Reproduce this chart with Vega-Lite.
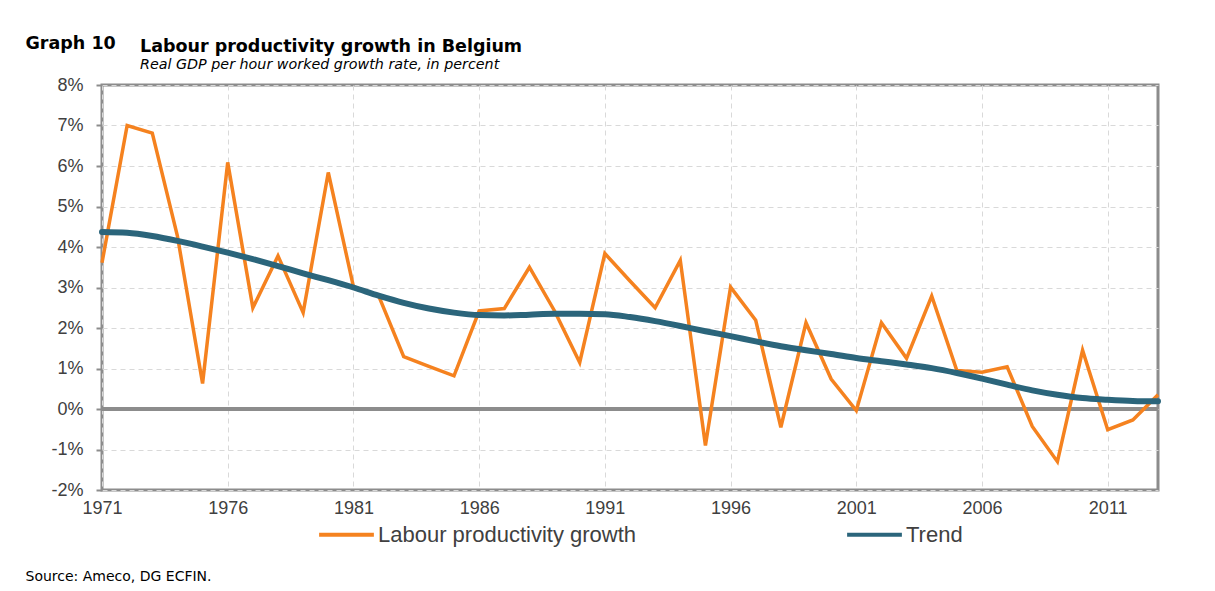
{
  "$schema": "https://vega.github.io/schema/vega-lite/v6.json",
  "width": 1056,
  "height": 405,
  "autosize": {"type": "none"},
  "padding": {"left": 102, "top": 85, "right": 57, "bottom": 101},
  "background": "white",
  "title": {
    "text": "Labour productivity growth in Belgium",
    "subtitle": "Real GDP per hour worked growth rate, in percent",
    "anchor": "start",
    "frame": "group",
    "dx": 38,
    "offset": -38,
    "font": "DejaVu Sans",
    "fontSize": 17.5,
    "fontWeight": "bold",
    "color": "#000000",
    "subtitleFont": "DejaVu Sans",
    "subtitleFontSize": 14.3,
    "subtitleFontStyle": "italic",
    "subtitleColor": "#000000",
    "subtitlePadding": 2
  },
  "data": {
    "values": [
      {"year": 1971, "series": "Labour productivity growth", "value": 3.61},
      {"year": 1972, "series": "Labour productivity growth", "value": 7.0},
      {"year": 1973, "series": "Labour productivity growth", "value": 6.81},
      {"year": 1974, "series": "Labour productivity growth", "value": 4.27},
      {"year": 1975, "series": "Labour productivity growth", "value": 0.63},
      {"year": 1976, "series": "Labour productivity growth", "value": 6.09},
      {"year": 1977, "series": "Labour productivity growth", "value": 2.5},
      {"year": 1978, "series": "Labour productivity growth", "value": 3.78},
      {"year": 1979, "series": "Labour productivity growth", "value": 2.38},
      {"year": 1980, "series": "Labour productivity growth", "value": 5.84},
      {"year": 1981, "series": "Labour productivity growth", "value": 3.02},
      {"year": 1982, "series": "Labour productivity growth", "value": 2.8},
      {"year": 1983, "series": "Labour productivity growth", "value": 1.29},
      {"year": 1984, "series": "Labour productivity growth", "value": 1.05},
      {"year": 1985, "series": "Labour productivity growth", "value": 0.82},
      {"year": 1986, "series": "Labour productivity growth", "value": 2.42},
      {"year": 1987, "series": "Labour productivity growth", "value": 2.48},
      {"year": 1988, "series": "Labour productivity growth", "value": 3.5},
      {"year": 1989, "series": "Labour productivity growth", "value": 2.42},
      {"year": 1990, "series": "Labour productivity growth", "value": 1.15},
      {"year": 1991, "series": "Labour productivity growth", "value": 3.84},
      {"year": 1992, "series": "Labour productivity growth", "value": 3.16},
      {"year": 1993, "series": "Labour productivity growth", "value": 2.5},
      {"year": 1994, "series": "Labour productivity growth", "value": 3.67},
      {"year": 1995, "series": "Labour productivity growth", "value": -0.9},
      {"year": 1996, "series": "Labour productivity growth", "value": 3.01},
      {"year": 1997, "series": "Labour productivity growth", "value": 2.19},
      {"year": 1998, "series": "Labour productivity growth", "value": -0.45},
      {"year": 1999, "series": "Labour productivity growth", "value": 2.13},
      {"year": 2000, "series": "Labour productivity growth", "value": 0.74},
      {"year": 2001, "series": "Labour productivity growth", "value": -0.04},
      {"year": 2002, "series": "Labour productivity growth", "value": 2.13},
      {"year": 2003, "series": "Labour productivity growth", "value": 1.25},
      {"year": 2004, "series": "Labour productivity growth", "value": 2.79},
      {"year": 2005, "series": "Labour productivity growth", "value": 0.95},
      {"year": 2006, "series": "Labour productivity growth", "value": 0.91},
      {"year": 2007, "series": "Labour productivity growth", "value": 1.04},
      {"year": 2008, "series": "Labour productivity growth", "value": -0.43},
      {"year": 2009, "series": "Labour productivity growth", "value": -1.3},
      {"year": 2010, "series": "Labour productivity growth", "value": 1.45},
      {"year": 2011, "series": "Labour productivity growth", "value": -0.51},
      {"year": 2012, "series": "Labour productivity growth", "value": -0.27},
      {"year": 2013, "series": "Labour productivity growth", "value": 0.35},
      {"year": 1971, "series": "Trend", "value": 4.37},
      {"year": 1972, "series": "Trend", "value": 4.35},
      {"year": 1973, "series": "Trend", "value": 4.27},
      {"year": 1974, "series": "Trend", "value": 4.15},
      {"year": 1975, "series": "Trend", "value": 4.01},
      {"year": 1976, "series": "Trend", "value": 3.86},
      {"year": 1977, "series": "Trend", "value": 3.7},
      {"year": 1978, "series": "Trend", "value": 3.53},
      {"year": 1979, "series": "Trend", "value": 3.35},
      {"year": 1980, "series": "Trend", "value": 3.18},
      {"year": 1981, "series": "Trend", "value": 3.0},
      {"year": 1982, "series": "Trend", "value": 2.8},
      {"year": 1983, "series": "Trend", "value": 2.62},
      {"year": 1984, "series": "Trend", "value": 2.48},
      {"year": 1985, "series": "Trend", "value": 2.38},
      {"year": 1986, "series": "Trend", "value": 2.32},
      {"year": 1987, "series": "Trend", "value": 2.31},
      {"year": 1988, "series": "Trend", "value": 2.33},
      {"year": 1989, "series": "Trend", "value": 2.35},
      {"year": 1990, "series": "Trend", "value": 2.35},
      {"year": 1991, "series": "Trend", "value": 2.34},
      {"year": 1992, "series": "Trend", "value": 2.27},
      {"year": 1993, "series": "Trend", "value": 2.17},
      {"year": 1994, "series": "Trend", "value": 2.05},
      {"year": 1995, "series": "Trend", "value": 1.92},
      {"year": 1996, "series": "Trend", "value": 1.8},
      {"year": 1997, "series": "Trend", "value": 1.67},
      {"year": 1998, "series": "Trend", "value": 1.55},
      {"year": 1999, "series": "Trend", "value": 1.45},
      {"year": 2000, "series": "Trend", "value": 1.36},
      {"year": 2001, "series": "Trend", "value": 1.26},
      {"year": 2002, "series": "Trend", "value": 1.18},
      {"year": 2003, "series": "Trend", "value": 1.1},
      {"year": 2004, "series": "Trend", "value": 1.01},
      {"year": 2005, "series": "Trend", "value": 0.89},
      {"year": 2006, "series": "Trend", "value": 0.75},
      {"year": 2007, "series": "Trend", "value": 0.6},
      {"year": 2008, "series": "Trend", "value": 0.46},
      {"year": 2009, "series": "Trend", "value": 0.35},
      {"year": 2010, "series": "Trend", "value": 0.27},
      {"year": 2011, "series": "Trend", "value": 0.23},
      {"year": 2012, "series": "Trend", "value": 0.2},
      {"year": 2013, "series": "Trend", "value": 0.19}
    ]
  },
  "encoding": {
    "x": {
      "field": "year",
      "type": "quantitative",
      "scale": {"domain": [1971, 2013], "nice": false, "zero": false},
      "axis": {
        "values": [1971, 1976, 1981, 1986, 1991, 1996, 2001, 2006, 2011],
        "format": "d",
        "ticks": false,
        "labelPadding": 9,
        "labelFont": "Liberation Sans",
        "labelFontSize": 18,
        "labelColor": "#404040",
        "labelFlush": false,
        "domain": false,
        "grid": true,
        "gridColor": "#d9d9d9",
        "gridDash": [5, 4],
        "gridWidth": 1,
        "title": "Source: Ameco, DG ECFIN.",
        "titleX": -77,
        "titleY": 90,
        "titleAlign": "left",
        "titleAnchor": "start",
        "titleBaseline": "alphabetic",
        "titleFont": "DejaVu Sans",
        "titleFontSize": 14,
        "titleFontWeight": "normal",
        "titleColor": "#000000"
      }
    },
    "y": {
      "field": "value",
      "type": "quantitative",
      "scale": {"domain": [-2, 8], "nice": false, "zero": false},
      "axis": {
        "values": [-2, -1, 0, 1, 2, 3, 4, 5, 6, 7, 8],
        "labelExpr": "datum.value + '%'",
        "tickSize": 6,
        "tickColor": "#8c8c8c",
        "tickWidth": 2,
        "labelPadding": 13,
        "labelFont": "Liberation Sans",
        "labelFontSize": 18,
        "labelColor": "#404040",
        "domain": false,
        "grid": true,
        "gridColor": "#d9d9d9",
        "gridDash": [5, 4],
        "gridWidth": 1,
        "title": "Graph 10",
        "titleX": -77,
        "titleY": -37,
        "titleAngle": 0,
        "titleAlign": "left",
        "titleBaseline": "alphabetic",
        "titleFont": "DejaVu Sans",
        "titleFontSize": 17.5,
        "titleFontWeight": "bold",
        "titleColor": "#000000"
      }
    },
    "color": {
      "field": "series",
      "type": "nominal",
      "scale": {"domain": ["Labour productivity growth", "Trend"], "range": ["#f5821f", "#2b657b"]},
      "legend": {
        "title": null,
        "orient": "none",
        "legendX": 215,
        "legendY": 420,
        "direction": "horizontal",
        "symbolType": "stroke",
        "symbolSize": 3000,
        "symbolStrokeWidth": 4,
        "labelOffset": 2,
        "labelFont": "Liberation Sans",
        "labelFontSize": 22,
        "labelColor": "#404040",
        "labelLimit": 400,
        "columnPadding": 202
      }
    }
  },
  "layer": [
    {
      "mark": {"type": "rule", "stroke": "#8c8c8c", "strokeWidth": 3},
      "encoding": {"y": {"datum": 0}, "x": null, "color": null}
    },
    {
      "transform": [{"filter": "datum.series == 'Labour productivity growth'"}],
      "mark": {"type": "line", "strokeWidth": 3.5}
    },
    {
      "transform": [{"filter": "datum.series == 'Trend'"}],
      "mark": {"type": "line", "strokeWidth": 6, "interpolate": "monotone", "strokeCap": "round"}
    }
  ],
  "config": {
    "view": {"stroke": "#8c8c8c", "strokeWidth": 3}
  }
}
